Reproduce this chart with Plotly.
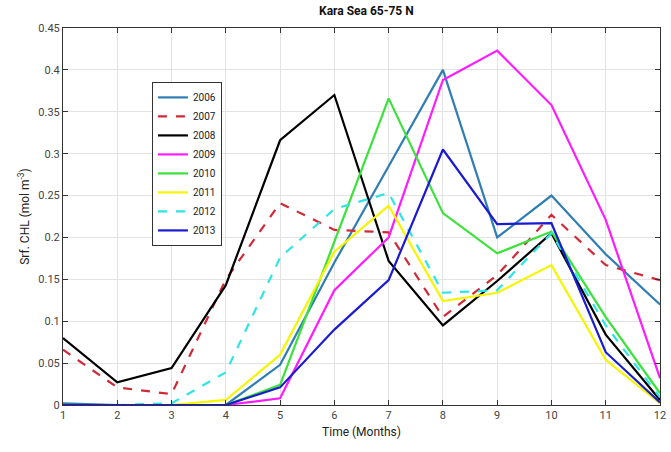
import plotly.graph_objects as go

months = list(range(1, 13))
years = ["2006", "2007", "2008", "2009", "2010", "2011", "2012", "2013"]

chl_2006 = [0.002, 0.0, 0.0, 0.0, 0.048, 0.17, 0.285, 0.40, 0.20, 0.25, 0.18, 0.12]
chl_2007 = [0.066, 0.021, 0.013, 0.15, 0.241, 0.209, 0.206, 0.105, 0.155, 0.227, 0.167, 0.149]
chl_2008 = [0.080, 0.027, 0.044, 0.143, 0.316, 0.370, 0.172, 0.095, 0.148, 0.205, 0.084, 0.006]
chl_2009 = [0.0, 0.0, 0.0, 0.0, 0.008, 0.137, 0.200, 0.388, 0.423, 0.358, 0.221, 0.032]
chl_2010 = [0.0, 0.0, 0.0, 0.0, 0.024, 0.195, 0.366, 0.229, 0.181, 0.207, 0.105, 0.014]
chl_2011 = [0.0, 0.0, 0.0, 0.006, 0.060, 0.183, 0.238, 0.124, 0.134, 0.167, 0.054, 0.002]
chl_2012 = [0.0, 0.0, 0.002, 0.039, 0.176, 0.234, 0.253, 0.134, 0.137, 0.205, 0.095, 0.009]
chl_2013 = [0.0, 0.0, 0.0, 0.0, 0.021, 0.090, 0.149, 0.305, 0.216, 0.217, 0.063, 0.003]

series = [chl_2006, chl_2007, chl_2008, chl_2009, chl_2010, chl_2011, chl_2012, chl_2013]
colors = ["#2f7db3", "#d12a36", "#000000", "#ff1aff", "#3ae23a", "#f5f500", "#2fe4e4", "#1a1ad0"]
dashes = ["solid", "dash", "solid", "solid", "solid", "solid", "dash", "solid"]

font_family = "Liberation Sans Narrow, Roboto, Arial"

fig = go.Figure()
for name, vals, col, dsh in zip(years, series, colors, dashes):
    fig.add_trace(go.Scatter(
        x=months, y=vals, name=name, mode="lines",
        line=dict(color=col, width=2.2, dash=dsh),
    ))

axis_common = dict(
    showgrid=True, gridcolor="#e3e3e3", gridwidth=1,
    showline=True, linecolor="#333333", linewidth=1, mirror="ticks",
    ticks="inside", ticklen=5, tickcolor="#333333",
    zeroline=False, ticklabeloverflow="allow",
    tickfont=dict(family=font_family, size=11, color="#444444"),
)

fig.update_layout(
    width=671, height=452,
    margin=dict(l=63, r=5, t=28, b=47),
    paper_bgcolor="white", plot_bgcolor="white",
    title=dict(text="<b>Kara Sea 65-75 N</b>", x=0.546, xanchor="center", y=0.985, yanchor="top",
               font=dict(family=font_family, size=12, color="#111111")),
    xaxis=dict(range=[1, 12], dtick=1, tick0=1,
               title=dict(text="Time (Months)", standoff=6,
                          font=dict(family=font_family, size=12, color="#222222")),
               **axis_common),
    yaxis=dict(range=[0, 0.45], dtick=0.05, tick0=0,
               title=dict(text="Srf. CHL (mol m<sup>-3</sup>)", standoff=6,
                          font=dict(family=font_family, size=12, color="#222222")),
               **axis_common),
    legend=dict(x=0.149, y=0.857, xanchor="left", yanchor="top",
                bgcolor="white", bordercolor="#333333", borderwidth=1,
                font=dict(family=font_family, size=10, color="#222222"),
                tracegroupgap=0, itemwidth=30),
    showlegend=True,
)

fig.write_html("out.html")
